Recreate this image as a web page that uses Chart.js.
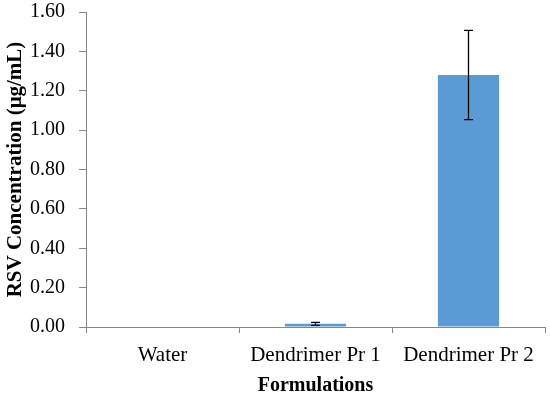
<!DOCTYPE html>
<html>
<head>
<meta charset="utf-8">
<script src="https://cdn.jsdelivr.net/npm/chart.js@4"></script>
<style>
  html, body { margin: 0; padding: 0; background: #fff; }
  #wrap { width: 550px; height: 398px; }
</style>
</head>
<body>
<div id="wrap"><canvas id="rsvChart"></canvas></div>
<script>
// data
const formulations = ["Water", "Dendrimer Pr 1", "Dendrimer Pr 2"];
const concentration = [0, 0.016, 1.28];
const errors = [0, 0.008, 0.227];

const axisGrey = "#868686";
const serif = "'Liberation Serif', 'Times New Roman', serif";

// draws the +/- error bars using the chart's own scales
const errorBars = {
    id: "errorBars",
    afterDatasetsDraw(chart) {
        const ctx = chart.ctx;
        const yScale = chart.scales.y;
        const meta = chart.getDatasetMeta(0);
        ctx.save();
        ctx.strokeStyle = "#000";
        ctx.lineWidth = 1.3;
        meta.data.forEach((bar, i) => {
            if (!errors[i]) return;
            const top = yScale.getPixelForValue(concentration[i] + errors[i]);
            const bottom = yScale.getPixelForValue(concentration[i] - errors[i]);
            const cap = 4.5;
            ctx.beginPath();
            ctx.moveTo(bar.x, top);
            ctx.lineTo(bar.x, bottom);
            ctx.moveTo(bar.x - cap, top);
            ctx.lineTo(bar.x + cap, top);
            ctx.moveTo(bar.x - cap, bottom);
            ctx.lineTo(bar.x + cap, bottom);
            ctx.stroke();
        });
        ctx.restore();
    }
};

new Chart(document.getElementById("rsvChart"), {
    type: "bar",
    data: {
        labels: formulations,
        datasets: [{
            data: concentration,
            backgroundColor: "#5B9BD5",
            borderWidth: 0,
            categoryPercentage: 1,
            barPercentage: 0.4
        }]
    },
    options: {
        responsive: true,
        maintainAspectRatio: false,
        animation: false,
        layout: { padding: { top: 0, right: 5, left: 0, bottom: 0 } },
        plugins: {
            legend: { display: false },
            tooltip: { enabled: false }
        },
        scales: {
            x: {
                grid: {
                    offset: true,
                    drawOnChartArea: false,
                    drawTicks: true,
                    tickLength: 6,
                    color: axisGrey
                },
                border: { color: axisGrey, width: 1 },
                ticks: {
                    color: "#000",
                    padding: 10,
                    font: { family: serif, size: 21 }
                },
                title: {
                    display: true,
                    text: "Formulations",
                    color: "#000",
                    padding: { top: 0, bottom: 0 },
                    font: { family: serif, size: 20, weight: "bold" }
                },
                afterFit(scale) { scale.height = 71; }
            },
            y: {
                min: 0,
                max: 1.6,
                grid: {
                    drawOnChartArea: false,
                    drawTicks: true,
                    tickLength: 7,
                    color: axisGrey
                },
                border: { color: axisGrey, width: 1 },
                ticks: {
                    stepSize: 0.2,
                    color: "#000",
                    padding: 14,
                    font: { family: serif, size: 20 },
                    callback: v => v.toFixed(2)
                },
                title: {
                    display: true,
                    text: "RSV Concentration (μg/mL)",
                    color: "#000",
                    padding: { top: 3, bottom: 0 },
                    font: { family: serif, size: 21, weight: "bold" }
                },
                afterFit(scale) {
                    scale.width = 86;
                    scale.paddingTop = 12;
                    scale.paddingBottom = 0;
                }
            }
        }
    },
    plugins: [errorBars]
});
</script>
</body>
</html>
